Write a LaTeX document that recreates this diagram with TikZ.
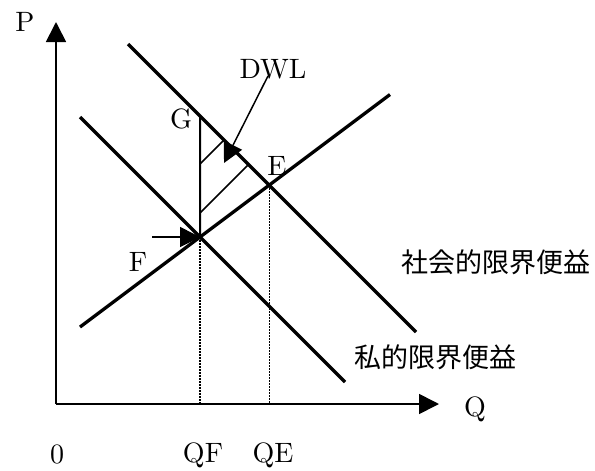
\documentclass[tikz,border=0pt]{standalone}
\usepackage{fontspec}
\setmainfont{lmroman10-regular.otf}
\newfontfamily\cjk{Noto Sans CJK JP}
\usetikzlibrary{arrows.meta}

\begin{document}
\begin{tikzpicture}[x=1pt, y=-1pt, >={Triangle[length=20pt, width=20pt]},
    every node/.style={font=\fontsize{28}{32}\selectfont},
    duong/.style={line width=3.3pt},
    manh/.style={line width=1.7pt},
    cham/.style={line width=1.2pt, dash pattern=on 1.5pt off 1.5pt},
    nhan/.style={font=\cjk\fontsize{27}{32}\selectfont}]
    \fill[white] (0,0) rectangle (595,468);

    % Trục tọa độ
    \coordinate (O) at (56,404);
    \coordinate (Ptop) at (56,22);
    \coordinate (Qend) at (439,404);
    \draw[->, manh] (O) -- (Ptop);
    \draw[->, manh] (O) -- (Qend);
    \node (P) at (25,22) {P};
    \node[anchor=base] (Q) at (475,416) {Q};
    \node[anchor=base] (zero) at (57,463) {0};

    % Các đường lợi ích biên và đường cung
    \coordinate (S1) at (128,44);  \coordinate (S2) at (416,332);
    \coordinate (R1) at (80,117);  \coordinate (R2) at (345,382);
    \coordinate (C1) at (80,327);  \coordinate (C2) at (390,94.5);
    \coordinate (E) at (intersection of S1--S2 and C1--C2);
    \coordinate (F) at (intersection of R1--R2 and C1--C2);
    \coordinate (G) at (200,116);
    \draw[duong] (S1) -- (S2);
    \draw[duong] (R1) -- (R2);
    \draw[duong] (C1) -- (C2);

    % Đường gióng
    \draw[cham] (F) -- (F |- O);
    \draw[cham] (E) -- (E |- O);
    \node[anchor=base] (QF) at (203,462) {QF};
    \node[anchor=base] (QE) at (273,462) {QE};

    % Vùng DWL
    \coordinate (H1) at (200,164);   \coordinate (K1) at (224,140);
    \coordinate (H2) at (200,213);   \coordinate (K2) at (248.5,164.5);
    \draw[line width=2pt] (G) -- (F);
    \draw[manh] (H1) -- (K1);
    \draw[manh] (H2) -- (K2);
    \node (lG) at (181,119) {G};
    \node (lE) at (277,166) {E};
    \node (lF) at (138,262) {F};

    % Mũi tên chỉ
    \node (DWL) at (273,69) {DWL};
    \coordinate (Dtop) at (268,76);
    \coordinate (Dtip) at (224,163);
    \draw[->, line width=1.5pt] (Dtop) -- (Dtip);
    \coordinate (Fleft) at (152,237);
    \draw[->, manh] (Fleft) -- (F);

    % Nhãn
    \node[nhan] (XH) at (496,262) {社会的限界便益};
    \node[nhan] (TN) at (435,357) {私的限界便益};
\end{tikzpicture}
\end{document}
